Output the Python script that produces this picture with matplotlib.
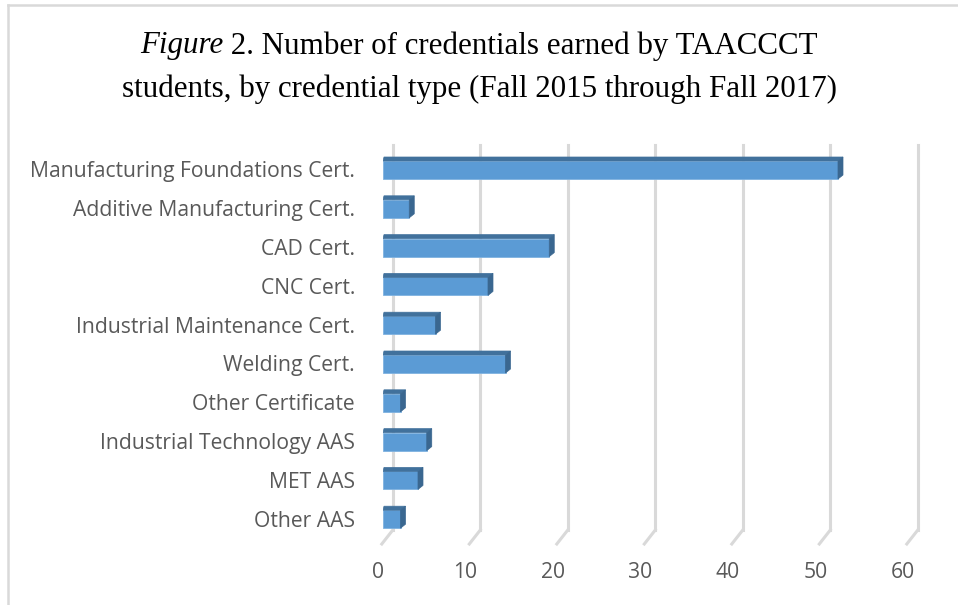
import matplotlib.pyplot as plt
from matplotlib.patches import Polygon
from matplotlib.lines import Line2D

# ======================
# 数据
# ======================
categories = [
    "Manufacturing Foundations Cert.",
    "Additive Manufacturing Cert.",
    "CAD Cert.",
    "CNC Cert.",
    "Industrial Maintenance Cert.",
    "Welding Cert.",
    "Other Certificate",
    "Industrial Technology AAS",
    "MET AAS",
    "Other AAS",
]
counts = [52, 3, 19, 12, 6, 14, 2, 5, 4, 2]
x_ticks = [0, 10, 20, 30, 40, 50, 60]

# 颜色
FRONT = "#5B9BD5"
TOP = "#41719C"
SIDE = "#3A6790"
GRID = "#D9D9D9"
TEXT = "#595959"

W, H = 958, 605
fig = plt.figure(figsize=(W / 100, H / 100), dpi=100)

# 坐标轴区域 (像素 -> 比例): x 0..60 对应 383..908
x0_px, x1_px = 383, 908
y_top_px, y_bot_px = 145, 548
ax = fig.add_axes([x0_px / W, 1 - y_bot_px / H, (x1_px - x0_px) / W, (y_bot_px - y_top_px) / H])
px_per_unit = (x1_px - x0_px) / 60
row_px = 38.8
ax.set_xlim(0, 60)
# y: 类别索引, 行中心 170px 开始
ylim_top = -(170 - y_top_px) / row_px
ylim_bot = (y_bot_px - 170) / row_px
ax.set_ylim(ylim_bot, ylim_top)
ax.axis("off")

# 深度偏移
dx = 5 / px_per_unit
dy = 4 / row_px
gdx = 11 / px_per_unit   # 网格线后墙偏移
gdy = 14 / row_px

# 网格线 (后墙竖线 + 底面斜线)
grid_top = ylim_top
grid_bottom = (530 - 170) / row_px
for t in x_ticks:
    gx = t + gdx - 1.2 / px_per_unit
    ax.add_line(Line2D([gx, gx], [grid_top, grid_bottom], color=GRID, lw=2.2,
                       zorder=1, clip_on=False))
    ax.add_line(Line2D([gx, gx - gdx], [grid_bottom, grid_bottom + gdy],
                       color=GRID, lw=2.2, zorder=1, clip_on=False))

# 条形 (伪3D)
bar_h = 18 / row_px
for i, v in enumerate(counts):
    top = i - bar_h / 2
    bot = i + bar_h / 2
    ax.add_patch(Polygon([[0, bot], [v, bot], [v, top], [0, top]],
                         closed=True, facecolor=FRONT, edgecolor="#7FB2E0", lw=0.6, zorder=3))
    ax.add_patch(Polygon([[0, top], [v, top], [v + dx, top - dy], [dx * 0.2, top - dy]],
                         closed=True, facecolor=TOP, edgecolor=TOP, lw=0.5, zorder=3))
    ax.add_patch(Polygon([[v, top], [v + dx, top - dy], [v + dx, bot - dy], [v, bot]],
                         closed=True, facecolor=SIDE, edgecolor=SIDE, lw=0.5, zorder=3))

# 刻度标签
label_font = ["Open Sans", "DejaVu Sans"]
for i, c in enumerate(categories):
    ax.text(-28 / px_per_unit, i + 0.05, c, ha="right", va="center",
            fontsize=15.2, color=TEXT, family=label_font)
tick_y = (573 - 170) / row_px
for t in x_ticks:
    ax.text(t - 5 / px_per_unit, tick_y, str(t), ha="center", va="center",
            fontsize=15.2, color=TEXT, family=label_font)

# 标题 (第一行 "Figure" 斜体)
title_font = ["Liberation Serif", "DejaVu Serif"]
title_size = 22.3
fig.canvas.draw()
renderer = fig.canvas.get_renderer()
t1a = fig.text(0, 0, "Figure", fontsize=title_size, style="italic", family=title_font)
t1b = fig.text(0, 0, " 2. Number of credentials earned by TAACCCT", fontsize=title_size,
               family=title_font)
wa = t1a.get_window_extent(renderer).width
wb = t1b.get_window_extent(renderer).width
start = W / 2 - (wa + wb) / 2
y1 = 1 - 46 / H
t1a.set_position((start / W, y1))
t1b.set_position(((start + wa) / W, y1))
t1a.set_va("center")
t1b.set_va("center")
fig.text(0.5, 1 - 89 / H, "students, by credential type (Fall 2015 through Fall 2017)",
         fontsize=title_size, family=title_font, ha="center", va="center")

# 外框 (左侧与顶部)
fig.add_artist(Line2D([7.5 / W, 7.5 / W], [0, 1 - 5 / H], color=GRID, lw=1.8,
                      transform=fig.transFigure))
fig.add_artist(Line2D([7.5 / W, 1], [1 - 5 / H, 1 - 5 / H], color=GRID, lw=1.8,
                      transform=fig.transFigure))

fig.savefig("out.png", dpi=100)
